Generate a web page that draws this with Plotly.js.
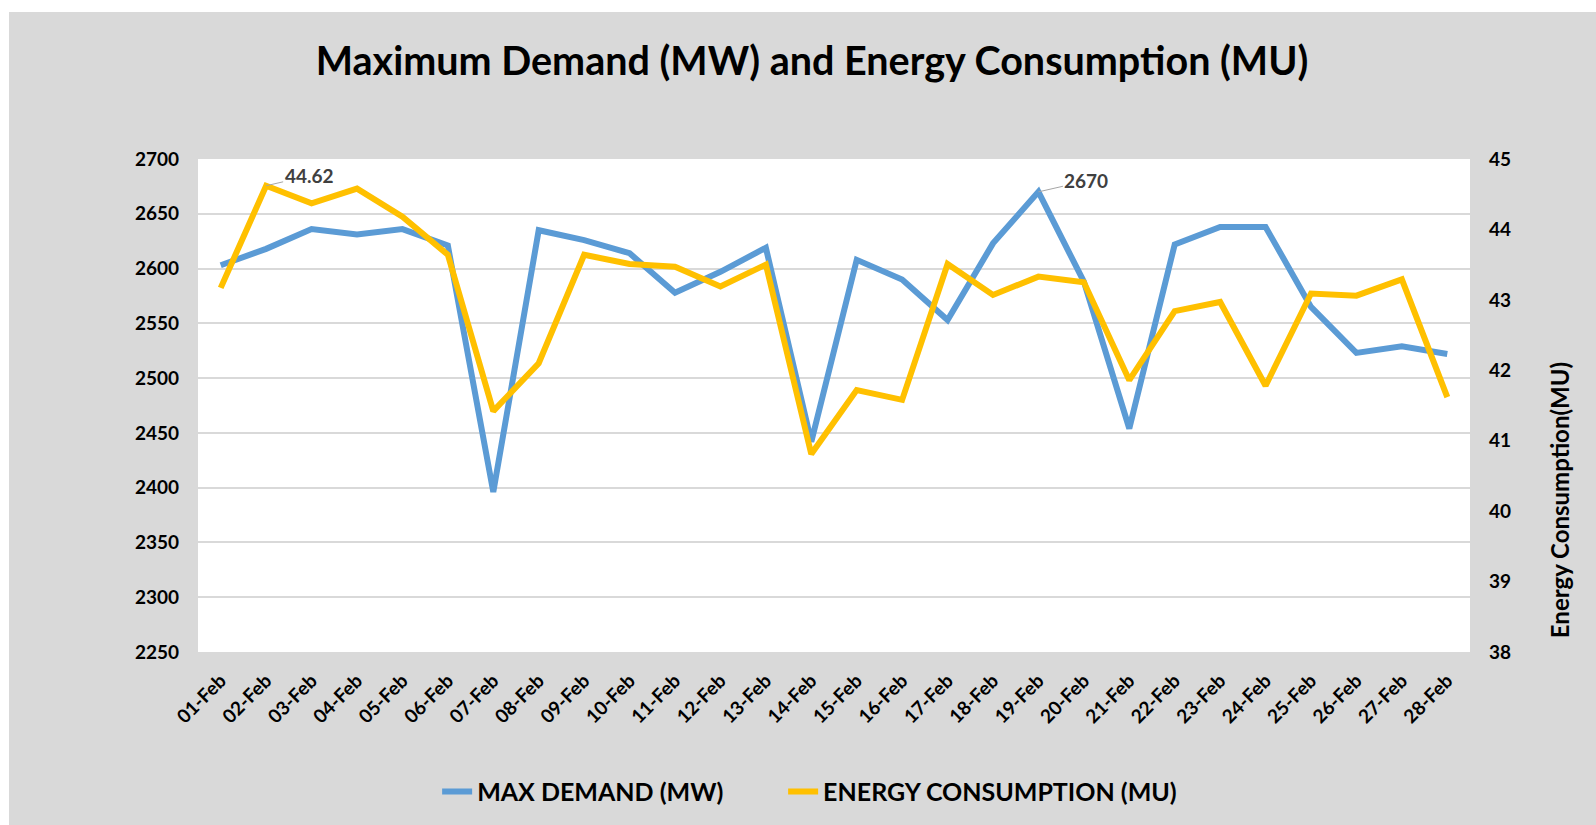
<!DOCTYPE html>
<html>
<head>
<meta charset="utf-8">
<script src="https://cdn.plot.ly/plotly-3.0.1.min.js"></script>
<style>
  html, body { margin: 0; padding: 0; background: #ffffff; width: 1596px; height: 825px; overflow: hidden; }
  #chart { position: absolute; left: 9px; top: 12px; width: 1587px; height: 813px; }
</style>
</head>
<body>
<div id="chart"></div>
<script>
const dates = ["01-Feb","02-Feb","03-Feb","04-Feb","05-Feb","06-Feb","07-Feb","08-Feb","09-Feb","10-Feb",
               "11-Feb","12-Feb","13-Feb","14-Feb","15-Feb","16-Feb","17-Feb","18-Feb","19-Feb","20-Feb",
               "21-Feb","22-Feb","23-Feb","24-Feb","25-Feb","26-Feb","27-Feb","28-Feb"];
const maxDemand = [2603, 2618, 2636, 2631, 2636, 2621, 2396, 2635, 2626, 2614,
                   2578, 2597, 2619, 2442, 2608, 2590, 2553, 2623, 2670, 2588,
                   2454, 2622, 2638, 2638, 2565, 2523, 2529, 2522];
const energy = [43.17, 44.62, 44.37, 44.58, 44.18, 43.64, 41.42, 42.10, 43.64, 43.51,
                43.47, 43.19, 43.50, 40.81, 41.72, 41.58, 43.51, 43.07, 43.33, 43.25,
                41.86, 42.84, 42.97, 41.78, 43.09, 43.06, 43.29, 41.62];
const seriesNames = ["MAX DEMAND (MW)", "ENERGY CONSUMPTION (MU)"];
const titleText = "Maximum Demand (MW) and Energy Consumption (MU)";
const rightAxisTitle = "Energy Consumption(MU)";

const FONT = "Lato, 'Open Sans', sans-serif";

const iMaxE = energy.indexOf(Math.max(...energy));
const iMaxD = maxDemand.indexOf(Math.max(...maxDemand));

const traces = [
  { x: dates, y: maxDemand, name: seriesNames[0], type: "scatter", mode: "lines",
    line: { color: "#5b9bd5", width: 6, shape: "linear" }, yaxis: "y", hoverinfo: "x+y",
    legend: "legend" },
  { x: dates, y: energy, name: seriesNames[1], type: "scatter", mode: "lines",
    line: { color: "#ffc000", width: 6, shape: "linear" }, yaxis: "y2", hoverinfo: "x+y",
    legend: "legend2" }
];

const legendFont = { family: FONT, size: 25, color: "#000000", weight: "bold" };

const layout = {
  width: 1587, height: 813,
  paper_bgcolor: "#d9d9d9",
  plot_bgcolor: "#ffffff",
  margin: { l: 189, r: 126, t: 147, b: 172, pad: 0 },
  title: { text: titleText, x: 0.506, xanchor: "center", y: 0.94, yanchor: "middle",
           font: { family: FONT, size: 39.5, color: "#000000", weight: "bold" } },
  xaxis: { type: "category", tickangle: -45, showgrid: false, zeroline: false, showline: false,
           ticks: "", ticklabelstandoff: 13,
           tickfont: { family: FONT, size: 19, color: "#000000", weight: "bold" },
           range: [-0.5, dates.length - 0.5] },
  yaxis: { range: [2250, 2700], dtick: 50, tick0: 2250, showgrid: true, gridcolor: "#d9d9d9", gridwidth: 1.5,
           zeroline: false, showline: false, ticks: "", ticklabelstandoff: 18,
           tickfont: { family: FONT, size: 19, color: "#000000", weight: "bold" } },
  yaxis2: { range: [38, 45], dtick: 1, tick0: 38, overlaying: "y", side: "right", showgrid: false,
            zeroline: false, showline: false, ticks: "", ticklabelstandoff: 18,
            tickfont: { family: FONT, size: 19, color: "#000000", weight: "bold" } },
  showlegend: true,
  legend: { orientation: "h", x: 0.188, xanchor: "left", y: -0.281, yanchor: "middle",
            bgcolor: "rgba(0,0,0,0)", itemwidth: 30, font: legendFont },
  legend2: { orientation: "h", x: 0.460, xanchor: "left", y: -0.281, yanchor: "middle",
             bgcolor: "rgba(0,0,0,0)", itemwidth: 30, font: legendFont },
  annotations: [
    { x: dates[iMaxE], y: energy[iMaxE], xref: "x", yref: "y2", text: energy[iMaxE].toFixed(2),
      showarrow: true, arrowhead: 0, arrowwidth: 1, arrowcolor: "#a6a6a6", ax: 43, ay: -10,
      font: { family: FONT, size: 19, color: "#404040", weight: "bold" } },
    { x: dates[iMaxD], y: maxDemand[iMaxD], xref: "x", yref: "y", text: String(maxDemand[iMaxD]),
      showarrow: true, arrowhead: 0, arrowwidth: 1, arrowcolor: "#a6a6a6", ax: 48, ay: -11,
      font: { family: FONT, size: 19, color: "#404040", weight: "bold" } },
    { x: 1.070, y: 0.308, xref: "paper", yref: "paper", text: rightAxisTitle, showarrow: false,
      textangle: -90, xanchor: "center", yanchor: "middle",
      font: { family: FONT, size: 24, color: "#000000", weight: "bold" } }
  ]
};

Plotly.newPlot("chart", traces, layout, { displayModeBar: false, responsive: false });
</script>
</body>
</html>
